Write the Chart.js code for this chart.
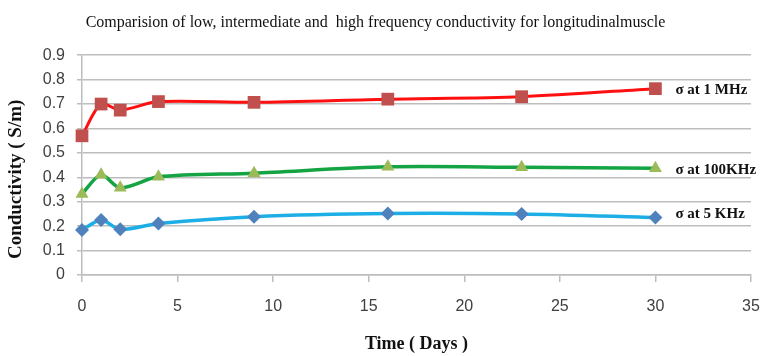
<!DOCTYPE html>
<html>
<head>
<meta charset="utf-8">
<script src="https://cdn.jsdelivr.net/npm/chart.js@4"></script>
<style>
  html, body { margin: 0; padding: 0; background: #ffffff; }
  #wrap { width: 764px; height: 356px; }
</style>
</head>
<body>
<div id="wrap"><canvas id="conductivityChart" width="764" height="356"></canvas></div>
<script>
// Sampling days and measured conductivity (S/m) at three frequencies
const days = [0, 1, 2, 4, 9, 16, 23, 30];
const sigma1MHz = [0.57, 0.70, 0.675, 0.71, 0.707, 0.72, 0.73, 0.763];
const sigma100KHz = [0.332, 0.41, 0.357, 0.402, 0.417, 0.443, 0.441, 0.437];
const sigma5KHz = [0.184, 0.225, 0.187, 0.211, 0.239, 0.252, 0.25, 0.235];
const seriesNames = ['σ at 1 MHz', 'σ at 100KHz', 'σ at 5 KHz'];

const xTicks = [0, 5, 10, 15, 20, 25, 30, 35];
const yTicks = [0, 0.1, 0.2, 0.3, 0.4, 0.5, 0.6, 0.7, 0.8, 0.9];

const gridColor = '#bdbdbd';
const serif = "'Liberation Serif', 'Times New Roman', serif";
const sans = "'Liberation Sans', Arial, sans-serif";

function toPoints(values) {
    return days.map((d, i) => ({ x: d, y: values[i] }));
}

// Series name written just right of each line's last marker
const endLabels = {
    id: 'endLabels',
    afterDatasetsDraw(chart) {
        const ctx = chart.ctx;
        ctx.save();
        ctx.font = 'bold 15px ' + serif;
        ctx.fillStyle = '#111111';
        ctx.textAlign = 'left';
        ctx.textBaseline = 'middle';
        chart.data.datasets.forEach((ds, i) => {
            const pts = chart.getDatasetMeta(i).data;
            const last = pts[pts.length - 1];
            ctx.fillText(ds.label, last.x + 20, last.y + (ds.labelShift || 0));
        });
        ctx.restore();
    }
};

new Chart(document.getElementById('conductivityChart'), {
    type: 'line',
    data: {
        datasets: [
            {
                label: seriesNames[0],
                data: toPoints(sigma1MHz),
                borderColor: '#ff1010',
                backgroundColor: '#c0504d',
                borderWidth: 3,
                pointStyle: 'rect',
                pointRadius: 9,
                pointBorderWidth: 0,
                clip: false,
                labelShift: 1
            },
            {
                label: seriesNames[1],
                data: toPoints(sigma100KHz),
                borderColor: '#14a444',
                backgroundColor: '#9bbb59',
                borderWidth: 3.5,
                pointStyle: 'triangle',
                pointRadius: 7.5,
                pointBorderWidth: 0,
                clip: false,
                labelShift: 2
            },
            {
                label: seriesNames[2],
                data: toPoints(sigma5KHz),
                borderColor: '#1eaee6',
                backgroundColor: '#4f81bd',
                borderWidth: 3.5,
                pointStyle: 'rectRot',
                pointRadius: 7,
                pointBorderWidth: 0,
                clip: false,
                labelShift: -3
            }
        ]
    },
    options: {
        responsive: false,
        animation: false,
        devicePixelRatio: 1,
        layout: { padding: { left: 0, right: 13, top: 0, bottom: 0 } },
        elements: {
            line: { tension: 0.3, fill: false }
        },
        plugins: {
            legend: { display: false },
            tooltip: { enabled: false },
            title: {
                display: true,
                text: 'Comparision of low, intermediate and  high frequency conductivity for longitudinalmuscle',
                color: '#111111',
                font: { family: serif, size: 16, weight: 'normal' },
                padding: { top: 13, bottom: 23 }
            }
        },
        scales: {
            x: {
                type: 'linear',
                min: 0,
                max: 35,
                afterBuildTicks(scale) {
                    scale.ticks = xTicks.map(v => ({ value: v }));
                },
                afterFit(scale) {
                    scale.height = 81;
                    scale.paddingRight = 0;
                },
                grid: {
                    drawOnChartArea: false,
                    drawTicks: true,
                    tickLength: 7,
                    color: gridColor,
                    lineWidth: 1.5
                },
                border: { display: true, color: gridColor, width: 1.5 },
                ticks: {
                    color: '#404040',
                    font: { family: sans, size: 16 },
                    padding: 15,
                    maxRotation: 0
                },
                title: {
                    display: true,
                    text: 'Time ( Days )',
                    color: '#111111',
                    font: { family: serif, size: 18, weight: 'bold' },
                    padding: { top: 0, bottom: 1 }
                }
            },
            y: {
                min: 0,
                max: 0.9,
                afterBuildTicks(scale) {
                    scale.ticks = yTicks.map(v => ({ value: v }));
                },
                afterFit(scale) { scale.width = 82; },
                grid: {
                    drawOnChartArea: true,
                    drawTicks: true,
                    tickLength: 5,
                    color: gridColor,
                    lineWidth: 1.5
                },
                border: { display: true, color: gridColor, width: 1.5 },
                ticks: {
                    color: '#404040',
                    font: { family: sans, size: 16 },
                    padding: 12,
                    callback: v => (v === 0 ? '0' : v.toFixed(1))
                },
                title: {
                    display: true,
                    // trailing spaces push the caption a little lower on the axis
                    text: 'Conductivity ( S/m)      ',
                    color: '#111111',
                    font: { family: serif, size: 19, weight: 'bold' },
                    padding: { top: 5, bottom: 0 }
                }
            }
        }
    },
    plugins: [endLabels]
});
</script>
</body>
</html>
